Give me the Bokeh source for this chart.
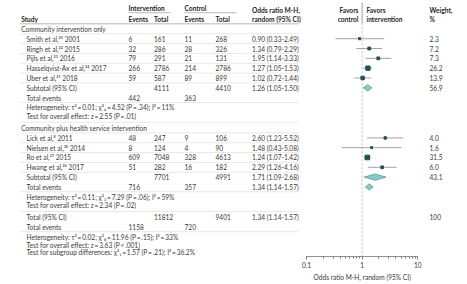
from bokeh.plotting import figure
from bokeh.layouts import column
from bokeh.models import (Range1d, LogScale, LogAxis, FixedTicker, CustomJSTickFormatter,
                          ColumnDataSource)
from bokeh.core.properties import value
from bokeh.embed import file_html
from bokeh.resources import INLINE

# ---------------- data ----------------
g1_studies = ["Smith et al,²⁵ 2001", "Ringh et al,²² 2015", "Pijls et al,²³ 2016",
              "Hasselqvist-Ax et al,²⁴ 2017", "Uber et al,²¹ 2018"]
g1_int_events = [6, 32, 79, 266, 59]
g1_int_total = [161, 286, 291, 2786, 587]
g1_ctl_events = [11, 28, 21, 214, 89]
g1_ctl_total = [268, 326, 131, 2786, 899]
g1_or = [0.90, 1.34, 1.95, 1.27, 1.02]
g1_lo = [0.33, 0.79, 1.14, 1.05, 0.72]
g1_hi = [2.49, 2.29, 3.33, 1.53, 1.44]
g1_weight = [2.3, 7.2, 7.3, 26.2, 13.9]

g2_studies = ["Lick et al,⁸ 2011", "Nielsen et al,³⁰ 2014", "Ro et al,²⁷ 2015", "Hwang et al,²⁶ 2017"]
g2_int_events = [48, 8, 609, 51]
g2_int_total = [247, 124, 7048, 282]
g2_ctl_events = [9, 4, 328, 16]
g2_ctl_total = [106, 90, 4613, 182]
g2_or = [2.60, 1.48, 1.24, 2.29]
g2_lo = [1.23, 0.43, 1.07, 1.26]
g2_hi = [5.52, 5.08, 1.42, 4.16]
g2_weight = [4.0, 1.6, 31.5, 6.0]

# subtotal: int_total, ctl_total, or, lo, hi, weight
sub1 = [4111, 4410, 1.26, 1.05, 1.50, 56.9]
sub2 = [7701, 4991, 1.71, 1.09, 2.68, 43.1]
tot = [11812, 9401, 1.34, 1.14, 1.57, 100]
# total events: int, ctl
te1 = [442, 363]
te2 = [716, 357]
te2_or = [1.34, 1.14, 1.57]
te_all = [1158, 720]

S = "\u2009"
het1 = f"Heterogeneity: τ²{S}={S}0.01; χ²₄{S}={S}4.52 (P{S}={S}.34); I²{S}={S}11%"
test1 = f"Test for overall effect: z{S}={S}2.55 (P{S}={S}.01)"
het2 = f"Heterogeneity: τ²{S}={S}0.11; χ²₃{S}={S}7.29 (P{S}={S}.06); I²{S}={S}59%"
test2 = f"Test for overall effect: z{S}={S}2.34 (P{S}={S}.02)"
het_all = f"Heterogeneity: τ²{S}={S}0.02; χ²₈{S}={S}11.96 (P{S}={S}.15); I²{S}={S}33%"
test_all = f"Test for overall effect: z{S}={S}3.63 (P{S}<{S}.001)"
test_sub = f"Test for subgroup differences: χ²₁{S}={S}1.57 (P{S}={S}.21); I²{S}={S}36.2%"

x_ticks = [0.1, 1, 10]
axis_title = "Odds ratio M-H, random (95% CI)"

# ---------------- layout ----------------
FONT = "Lato"
FS = "6.6px"
TXT = "#3a3a3a"
X_HEAD, X_IND = 20.7, 26
X_IE, X_IT, X_CE, X_CT, X_OR, X_W = 128, 153.5, 184, 215, 251.5, 429
X_FAV_R, X_FAV_L = 358, 366
AX_LEFT_PX, DECADE_PX, W, H_FRAME = 306, 55.65, 467, 258
H_MAIN = 270

def fmt_or(o, l, h):
    return f"{o:.2f} ({l:.2f}-{h:.2f})"

def fmt_w(w):
    return "100" if w >= 100 else f"{w:.1f}"

y_comm1 = 28.5
y_g1 = [38.5, 48.4, 58.3, 68.2, 78.1]
y_sub1, y_te1, y_het1, y_test1 = 88.0, 97.9, 107.6, 116.8
y_comm2 = 128.5
y_g2 = [138.5, 148.3, 158.2, 168.1]
y_sub2, y_te2, y_het2, y_test2 = 178.0, 187.9, 197.6, 206.6
y_tot, y_te_all, y_het_all, y_test_all, y_test_sub = 218.5, 228.0, 238.0, 246.3, 253.7

or_range = (10 ** (-1 - AX_LEFT_PX / DECADE_PX), 10 ** (-1 + (W - AX_LEFT_PX) / DECADE_PX))

p = figure(width=W, height=H_MAIN, x_range=Range1d(0, W), y_range=Range1d(H_FRAME, 0),
           x_axis_type=None, y_axis_type=None, toolbar_location=None, output_backend="svg",
           min_border_left=0, min_border_right=0, min_border_top=0,
           min_border_bottom=H_MAIN - H_FRAME,
           outline_line_color=None, background_fill_color="white", border_fill_color="white")
p.extra_x_ranges = {"or": Range1d(*or_range)}
p.extra_x_scales = {"or": LogScale()}

# ---------------- texts ----------------
items = []  # (x, y, text, align, style)
def t(x, y, s, align="left", style="normal"):
    items.append((x, y, s, align, style))

t(X_IE, 7.5, "Intervention", style="bold")
t(X_CE, 7.5, "Control", style="bold")
t(X_OR, 9.5, "Odds ratio M-H,", style="bold")
t(X_OR, 18.5, "random (95% CI)", style="bold")
t(X_FAV_R, 9.5, "Favors", "right", "bold")
t(X_FAV_R, 18.5, "control", "right", "bold")
t(X_FAV_L, 9.5, "Favors", style="bold")
t(X_FAV_L, 18.5, "intervention", style="bold")
t(X_W, 9.5, "Weight,", style="bold")
t(X_W, 18.5, "%", style="bold")
t(X_HEAD, 18.5, "Study", style="bold")
t(X_IE, 18.5, "Events", style="bold")
t(X_IT, 18.5, "Total", style="bold")
t(X_CE, 18.5, "Events", style="bold")
t(X_CT, 18.5, "Total", style="bold")

t(X_HEAD, y_comm1, "Community intervention only")
for i, y in enumerate(y_g1):
    t(X_IND, y, g1_studies[i]); t(X_IE, y, str(g1_int_events[i])); t(X_IT, y, str(g1_int_total[i]))
    t(X_CE, y, str(g1_ctl_events[i])); t(X_CT, y, str(g1_ctl_total[i]))
    t(X_OR, y, fmt_or(g1_or[i], g1_lo[i], g1_hi[i])); t(X_W, y, fmt_w(g1_weight[i]))
t(X_IND, y_sub1, "Subtotal (95% CI)"); t(X_IT, y_sub1, str(sub1[0])); t(X_CT, y_sub1, str(sub1[1]))
t(X_OR, y_sub1, fmt_or(*sub1[2:5])); t(X_W, y_sub1, fmt_w(sub1[5]))
t(X_IND, y_te1, "Total events"); t(X_IE, y_te1, str(te1[0])); t(X_CE, y_te1, str(te1[1]))
t(X_IND, y_het1, het1); t(X_IND, y_test1, test1)

t(X_HEAD, y_comm2, "Community plus health service intervention")
for i, y in enumerate(y_g2):
    t(X_IND, y, g2_studies[i]); t(X_IE, y, str(g2_int_events[i])); t(X_IT, y, str(g2_int_total[i]))
    t(X_CE, y, str(g2_ctl_events[i])); t(X_CT, y, str(g2_ctl_total[i]))
    t(X_OR, y, fmt_or(g2_or[i], g2_lo[i], g2_hi[i])); t(X_W, y, fmt_w(g2_weight[i]))
t(X_IND, y_sub2, "Subtotal (95% CI)"); t(X_IT, y_sub2, str(sub2[0])); t(X_CT, y_sub2, str(sub2[1]))
t(X_OR, y_sub2, fmt_or(*sub2[2:5])); t(X_W, y_sub2, fmt_w(sub2[5]))
t(X_IND, y_te2, "Total events"); t(X_IE, y_te2, str(te2[0])); t(X_CE, y_te2, str(te2[1]))
t(X_OR, y_te2, fmt_or(*te2_or))
t(X_IND, y_het2, het2); t(X_IND, y_test2, test2)

t(X_IND, y_tot, "Total (95% CI)"); t(X_IT, y_tot, str(tot[0])); t(X_CT, y_tot, str(tot[1]))
t(X_OR, y_tot, fmt_or(*tot[2:5])); t(X_W, y_tot, fmt_w(tot[5]))
t(X_IND, y_te_all, "Total events"); t(X_IE, y_te_all, str(te_all[0])); t(X_CE, y_te_all, str(te_all[1]))
t(X_IND, y_het_all, het_all); t(X_IND, y_test_all, test_all); t(X_IND, y_test_sub, test_sub)

# ---------------- rules of the table ----------------
row_ys = [18.5, y_comm1] + y_g1 + [y_sub1, y_te1, y_het1, y_test1, y_comm2] + y_g2 + \
         [y_sub2, y_te2, y_het2, y_test2, y_tot, y_te_all, y_het_all]
no_rule = [(y_het1, y_test1), (y_het2, y_test2), (y_sub1, y_te1), (y_sub2, y_te2), (y_tot, y_te_all)]
seps = [(a + b) / 2 for a, b in zip(row_ys[:-1], row_ys[1:]) if (a, b) not in no_rule]
p.segment(x0=[X_HEAD - 1] * (len(seps) - 1), x1=[298] * (len(seps) - 1), y0=seps[1:], y1=seps[1:],
          line_color="#dedede", line_width=0.7)
p.segment(x0=[X_HEAD - 1], x1=[298], y0=[seps[0]], y1=[seps[0]], line_color="#9a9a9a", line_width=0.7)
p.segment(x0=[X_IE, X_CE], x1=[X_IE + 42, X_CE + 52], y0=[12.3, 12.3], y1=[12.3, 12.3],
          line_color="#9a9a9a", line_width=0.7)

for (al, st) in sorted({(it[3], it[4]) for it in items}):
    sel = [it for it in items if it[3] == al and it[4] == st]
    src = ColumnDataSource(dict(x=[s[0] for s in sel], y=[s[1] for s in sel], text=[s[2] for s in sel]))
    p.text(x="x", y="y", text="text", source=src, text_font=value(FONT), text_font_size=FS,
           text_align=al, text_baseline="middle", text_color=TXT if st == "normal" else "#262626",
           text_font_style=st)

# ---------------- forest ----------------
p.segment(x0=[1], x1=[1], y0=[2], y1=[23], x_range_name="or", line_color="#8a8a8a", line_width=0.8)
p.segment(x0=[1], x1=[1], y0=[23], y1=[H_FRAME], x_range_name="or", line_color="#b0b0b0",
          line_width=0.8, line_dash="2 2")

st_or = g1_or + g2_or
st_lo = g1_lo + g2_lo
st_hi = g1_hi + g2_hi
st_w = g1_weight + g2_weight
st_y = y_g1 + y_g2
p.segment(x0=st_lo, x1=st_hi, y0=st_y, y1=st_y, x_range_name="or", line_color="#8c8c8c", line_width=0.8)
p.scatter(x=st_or, y=st_y, size=[1.2 + 0.6 * w ** 0.5 for w in st_w], marker="square",
          x_range_name="or", fill_color="#1f4f57", line_color="#1f4f57")

dia = [(sub1[2], sub1[3], sub1[4], y_sub1), (sub2[2], sub2[3], sub2[4], y_sub2),
       (te2_or[0], te2_or[1], te2_or[2], y_te2)]
hh = 3.2
p.patches(xs=[[lo, o, hi, o] for (o, lo, hi, y) in dia],
          ys=[[y, y - hh, y, y + hh] for (o, lo, hi, y) in dia],
          x_range_name="or", fill_color="#86cbc8", line_color="#4e9e9b", line_width=0.8)

minor = [0.2, 0.3, 0.4, 0.5, 0.6, 0.7, 0.8, 0.9, 2, 3, 4, 5, 6, 7, 8, 9]
ax = LogAxis(x_range_name="or", bounds=(x_ticks[0], x_ticks[-1]),
             ticker=FixedTicker(ticks=x_ticks, minor_ticks=minor),
             formatter=CustomJSTickFormatter(code="return String(tick)"),
             axis_line_color="#777777", axis_line_width=0.8,
             major_tick_line_color="#777777", major_tick_in=0, major_tick_out=3,
             minor_tick_line_color="#777777", minor_tick_in=0, minor_tick_out=2,
             major_label_text_font=FONT, major_label_text_font_size="6.6px",
             major_label_text_color=TXT, major_label_standoff=2)
p.add_layout(ax, "below")

# axis title strip under the plot, on the same log scale
p2 = figure(width=W, height=284 - H_MAIN, x_range=Range1d(*or_range), x_axis_type="log",
            y_range=Range1d(284 - H_MAIN, 0), toolbar_location=None, output_backend="svg",
            min_border=0, outline_line_color=None, border_fill_color="white")
p2.axis.visible = False
p2.grid.visible = False
p2.text(x=[1], y=[6], text=[axis_title], text_align="center", text_baseline="middle",
        text_font=value(FONT), text_font_size="6.6px", text_color=TXT)

layout = column(p, p2, spacing=0)
open("out.html", "w").write(file_html(layout, INLINE))
